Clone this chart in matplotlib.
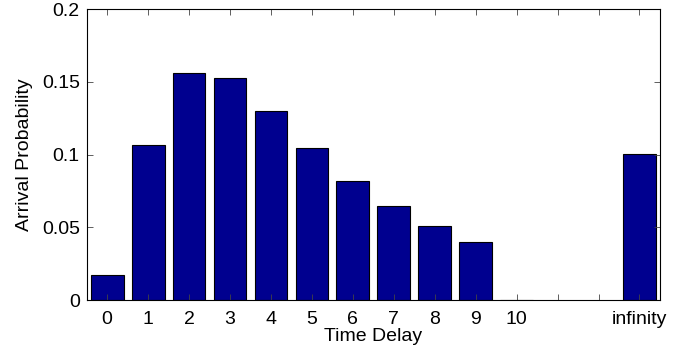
import matplotlib
matplotlib.use("Agg")
import matplotlib.pyplot as plt
import numpy as np

plt.rcParams['font.family'] = ['Liberation Sans', 'DejaVu Sans']

# Arrival probability per time delay (delays 11 and 12 left empty)
delays = [0, 1, 2, 3, 4, 5, 6, 7, 8, 9, 10, 13]
probs = [0.017, 0.1064, 0.1559, 0.1527, 0.130, 0.1045, 0.0821, 0.0644,
         0.0507, 0.0401, 0.0, 0.1002]
tick_pos = list(range(14))
tick_labels = ['0', '1', '2', '3', '4', '5', '6', '7', '8', '9', '10', '', '', 'infinity']
y_ticks = [0, 0.05, 0.1, 0.15, 0.2]
y_labels = ['0', '0.05', '0.1', '0.15', '0.2']

fig = plt.figure(figsize=(6.86, 3.56), dpi=100)
ax = fig.add_axes([0.1264, 0.1573, 0.8356, 0.8165])

ax.bar(delays, probs, width=0.8, color='#00008F', edgecolor='black', linewidth=0.8)

ax.set_xlim(-0.5, 13.5)
ax.set_ylim(0, 0.2)
ax.set_xticks(tick_pos)
ax.set_xticklabels(tick_labels)
ax.set_yticks(y_ticks)
ax.set_yticklabels(y_labels)
ax.tick_params(direction='in', length=4, width=0.6, labelsize=14,
               top=True, right=True, color='#444444')
ax.tick_params(axis='x', pad=8)
ax.tick_params(axis='y', pad=5)
for sp in ax.spines.values():
    sp.set_linewidth(0.8)

ax.set_xlabel('Time Delay', fontsize=14, labelpad=0)
ax.set_ylabel('Arrival Probability', fontsize=14, labelpad=6)

fig.savefig('out.png', dpi=100)
